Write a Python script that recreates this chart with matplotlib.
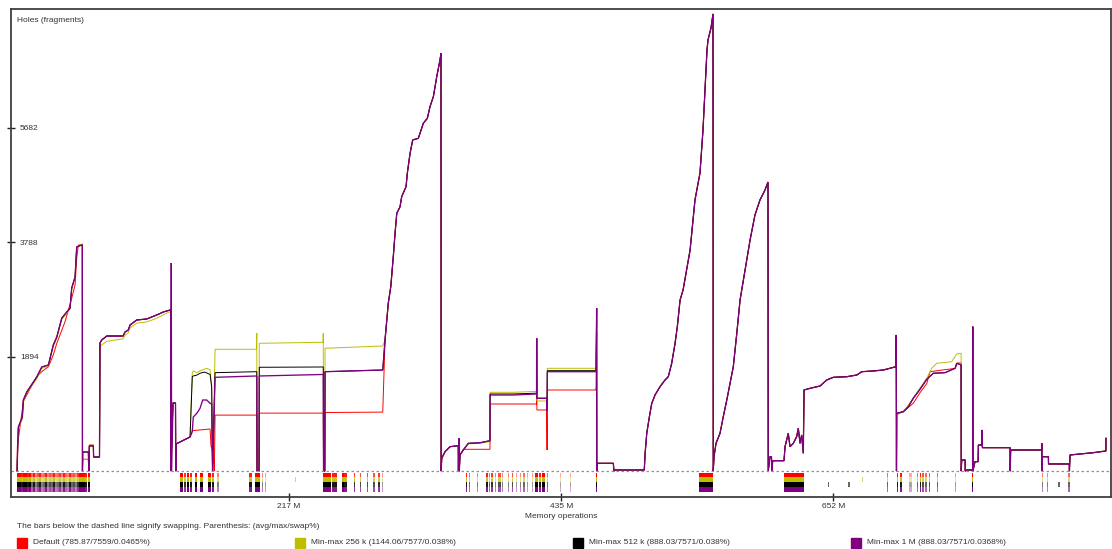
import matplotlib
matplotlib.use("Agg")
import matplotlib.pyplot as plt
from matplotlib.colors import to_rgba
from matplotlib.patches import Rectangle

plt.rcParams['font.family'] = ['Liberation Sans', 'DejaVu Sans']

# x = memory operations (millions), y = holes (fragments)

# first climb, up to the drop near 52 M
pa_x = [0.2, 0.4, 1.2, 4.4, 5.2, 7.9, 15.9, 19.9, 25.2, 29.1, 31.9, 35.9, 42.5, 43.8, 46.5, 47.8, 51.8, 52.3, 52.4, 52.6, 57.1, 57.5, 57.9, 61.1, 61.3, 66.0]
pa_y = [0, 184, 730, 896, 1177, 1310, 1558, 1724, 1757, 2088, 2221, 2535, 2701, 3032, 3214, 3711, 3744, 3744, 0, 316, 316, 0, 416, 416, 233, 233]
ya_y = [0, 150, 700, 870, 1150, 1290, 1530, 1700, 1740, 2060, 2200, 2510, 2680, 3010, 3200, 3711, 3760, 3760, 0, 195, 195, 0, 432, 432, 233, 233]
ra_x = [0.2, 0.4, 5.2, 7.9, 15.9, 19.9, 25.2, 29.1, 31.9, 38.5, 43.8, 46.5, 47.8, 49.1, 51.8, 52.3, 52.4, 52.6, 57.1, 57.5, 57.9, 61.1, 61.3, 66.0]
ra_y = [0, 404, 1149, 1260, 1563, 1646, 1729, 1923, 2116, 2474, 2862, 3082, 3524, 3744, 3744, 3744, 0, 195, 195, 0, 432, 432, 233, 233]

# second plateau
b_x = [66.4, 67.8, 71.8, 84.8, 86.4, 89.0, 90.4, 95.7, 103.7, 111.7, 117.0, 122.3, 122.9, 123.0]
b_y = [2121, 2171, 2237, 2237, 2303, 2337, 2419, 2502, 2519, 2585, 2635, 2667, 2667, 0]
yb_y = [2060, 2090, 2150, 2190, 2250, 2290, 2370, 2450, 2470, 2530, 2590, 2640, 2640, 0]
spike_x = [123.3, 123.6, 124.7, 126.7, 126.9]
spike_y = [3446, 0, 1128, 1128, 0]
short_x = [124.7, 126.7, 126.9]
short_y = [1128, 1128, 0]

# flat stretches where the four allocators split apart
pc_x = [127.1, 138.3, 140.1, 140.9, 143.7, 146.3, 148.4, 151.6, 154.3, 155.6, 156.1, 156.3, 158.3, 191.6, 191.8, 193.4, 193.6, 244.7, 244.9, 245.9, 246.1, 292.2]
pc_y = [449, 565, 652, 896, 957, 1040, 1177, 1177, 1123, 1111, 200, 0, 1553, 1575, 0, 0, 1575, 1600, 0, 0, 1646, 1674]
kc_x = [127.1, 138.3, 140.1, 140.9, 143.7, 146.3, 150.0, 154.3, 155.6, 156.1, 156.3, 158.3, 191.6, 191.8, 193.4, 193.6, 244.7, 244.9, 245.9, 246.1, 292.2]
kc_y = [449, 565, 1563, 1575, 1590, 1620, 1640, 1600, 1398, 300, 0, 1630, 1646, 0, 0, 1719, 1724, 0, 0, 1646, 1674]
yc_x = [127.1, 138.3, 140.1, 140.9, 143.7, 148.4, 151.6, 154.3, 155.6, 156.1, 156.3, 158.3, 191.4, 191.6, 191.8, 193.4, 193.6, 244.5, 244.7, 244.9, 245.9, 246.1, 292.2]
yc_y = [449, 565, 1630, 1660, 1630, 1680, 1700, 1680, 1350, 300, 0, 2017, 2017, 2282, 0, 0, 2116, 2133, 2282, 0, 0, 2034, 2072]
rc_x = [127.1, 138.3, 140.1, 154.3, 155.1, 155.6, 157.5, 157.7, 158.3, 191.6, 191.8, 193.4, 193.6, 244.7, 244.9, 245.9, 246.1, 292.2]
rc_y = [449, 565, 669, 697, 404, 404, 101, 0, 927, 927, 0, 0, 960, 960, 0, 0, 970, 977]

# big climb to ~6900
d_x = [294.0, 296.6, 298.6, 300.6, 302.0, 303.4, 306.0, 307.3, 310.8, 311.8, 314.0, 316.1, 320.6, 323.3, 324.6, 327.8, 329.9, 332.6, 335.3, 337.9, 338.7, 338.8]
d_y = [2171, 2779, 3054, 3550, 3938, 4269, 4378, 4544, 4710, 4932, 5263, 5483, 5511, 5677, 5760, 5842, 6034, 6200, 6531, 6808, 6919, 0]

# middle steps
e_x = [339.3, 341.9, 345.9, 352.5, 352.6, 353.1, 353.3, 353.9, 356.5, 360.5, 369.9, 377.8, 377.9, 396.5, 415.0, 415.1, 415.3, 416.4, 423.1, 423.4, 423.6, 462.3, 462.5, 463.0, 463.1]
pe_y = [212, 321, 404, 421, 0, 543, 0, 267, 349, 460, 470, 503, 1260, 1260, 1277, 2199, 1206, 1206, 1206, 1000, 1646, 1646, 1700, 2696, 0]
ke_y = [212, 321, 404, 421, 0, 0, 0, 267, 349, 460, 470, 503, 1277, 1277, 1290, 2199, 1206, 1206, 1206, 1000, 1663, 1663, 1720, 2696, 0]
ye_y = [212, 321, 404, 421, 0, 0, 0, 267, 349, 450, 460, 490, 1305, 1305, 1320, 1500, 1161, 1161, 1161, 1000, 1702, 1702, 1760, 2500, 0]
re_y = [212, 321, 404, 421, 0, 0, 0, 267, 361, 361, 361, 361, 1111, 1111, 1111, 1300, 1012, 1012, 1012, 349, 1343, 1343, 1400, 2300, 0]

# climb to the overall maximum
f1_x = [463.3, 464.3, 476.3, 476.8, 477.6, 501.0, 501.7, 503.0, 505.1, 507.0, 509.6, 513.6, 517.6, 520.2, 522.9, 525.6, 527.4, 529.6, 532.0, 537.6, 541.5, 545.5, 547.9, 551.1, 551.9, 554.3]
f1_y = [129, 129, 129, 0, 18, 18, 295, 626, 901, 1123, 1260, 1398, 1509, 1563, 1785, 2116, 2391, 2833, 2999, 3661, 4489, 4936, 5648, 6973, 7139, 7338]
peak_x = 555.9
peak_red, peak_256k, peak_512k, peak_1m = 7559, 7577, 7571, 7571
f2_x = [556.1, 556.7, 558.3, 561.5, 564.1, 566.9, 569.5, 572.1, 574.9, 577.5, 581.5, 585.5, 589.4, 593.4, 597.4, 599.8, 600.0, 601.4, 602.6, 602.8, 603.6, 612.6]
f2_y = [0, 238, 460, 626, 901, 1177, 1454, 1729, 2282, 2833, 3330, 3827, 4241, 4489, 4654, 4787, 0, 238, 238, 0, 172, 172]

g_x = [613.4, 616.0, 617.4, 620.0, 622.7, 624.0, 625.4, 626.7, 628.0, 628.6, 633.4, 641.4, 646.7, 652.0, 662.7, 670.7, 674.6, 683.9, 691.9, 697.2, 702.0, 702.2, 702.4]
g_y = [404, 626, 404, 460, 570, 709, 460, 598, 295, 1343, 1371, 1409, 1509, 1553, 1563, 1591, 1646, 1658, 1674, 1702, 1729, 2254, 0]

ph_x = [702.6, 707.9, 711.9, 715.8, 721.2, 726.6, 731.8, 741.2, 749.2, 750.5, 754.0, 754.1]
ph_y = [957, 984, 1066, 1206, 1355, 1520, 1620, 1630, 1702, 1785, 1757, 0]
rh_x = [702.6, 707.9, 715.8, 721.2, 726.6, 729.2, 741.2, 749.2, 751.0, 754.0, 754.1]
rh_y = [957, 984, 1123, 1300, 1450, 1646, 1680, 1700, 1790, 1790, 0]
yh_x = [702.6, 707.9, 715.8, 726.6, 730.5, 734.5, 746.5, 750.5, 754.0, 754.1]
yh_y = [930, 984, 1206, 1540, 1702, 1785, 1812, 1939, 1951, 0]

# tail of the run
i_x = [754.5, 757.2, 757.3, 758.5, 763.2, 763.3, 763.4, 765.1, 767.6, 767.8, 770.4, 770.6, 771.0, 793.1, 793.2, 793.6, 818.4, 818.5, 818.6, 818.9, 823.7, 823.8, 840.4, 840.5, 841.0, 848.9, 859.6, 869.6, 869.7]
i_y = [184, 184, 0, 18, 18, 2391, 0, 156, 156, 432, 432, 681, 388, 388, 0, 349, 349, 460, 0, 238, 238, 118, 118, 0, 267, 283, 305, 333, 543]

series = [
    ("Default (785.87/7559/0.0465%)", "#ff0000",
     ra_x + b_x + short_x + rc_x + d_x + e_x + f1_x + [peak_x] + f2_x + g_x + rh_x + i_x,
     ra_y + b_y + short_y + rc_y + d_y + re_y + f1_y + [peak_red] + f2_y + g_y + rh_y + i_y),
    ("Min-max 256 k (1144.06/7577/0.038%)", "#bebe00",
     pa_x + b_x + short_x + yc_x + d_x + e_x + f1_x + [peak_x] + f2_x + g_x + yh_x + i_x,
     ya_y + yb_y + short_y + yc_y + d_y + ye_y + f1_y + [peak_256k] + f2_y + g_y + yh_y + i_y),
    ("Min-max 512 k (888.03/7571/0.038%)", "#000000",
     pa_x + b_x + short_x + kc_x + d_x + e_x + f1_x + [peak_x] + f2_x + g_x + ph_x + i_x,
     pa_y + b_y + short_y + kc_y + d_y + ke_y + f1_y + [peak_512k] + f2_y + g_y + ph_y + i_y),
    ("Min-max 1 M (888.03/7571/0.0368%)", "#800080",
     pa_x + b_x + spike_x + pc_x + d_x + e_x + f1_x + [peak_x] + f2_x + g_x + ph_x + i_x,
     pa_y + b_y + spike_y + pc_y + d_y + pe_y + f1_y + [peak_1m] + f2_y + g_y + ph_y + i_y),
]

# swapping periods: start (M ops), width (M ops), strength
swap_x = [0.2, 1.8, 3.4, 5.0, 6.5, 8.1, 9.7, 11.3, 12.9, 14.5, 16.1, 17.7, 19.3, 20.9, 22.5, 24.1, 25.7, 27.3,
          28.9, 30.5, 32.1, 33.7, 35.3, 36.9, 38.5, 40.1, 41.7, 43.3, 44.9, 46.5, 48.1, 49.7, 51.3, 52.9, 54.5, 56.9,
          130.3, 133.3, 135.6, 138.6, 142.3, 146.3, 152.9, 155.6, 160.1,
          185.7, 190.2, 195.5, 198.2,
          244.3, 247.9, 251.6, 259.4, 261.6, 269.3, 274.1, 279.4, 284.7, 288.7, 291.4,
          358.8, 361.0, 367.2, 374.7, 377.0, 379.0, 382.0, 384.5, 387.2, 392.2, 395.0, 398.2, 401.8, 404.5, 407.0,
          411.4, 413.8, 417.0, 419.5, 423.0, 433.8, 441.8, 462.3,
          545.0, 612.8, 621.6,
          694.7, 702.6, 705.5, 712.3, 718.4, 720.8, 723.0, 725.5, 728.0, 734.5, 749.1, 762.4, 818.4, 822.5, 839.7]
swap_w = [1.4] * 36 + [2.0, 1.5, 2.2, 1.5, 1.8, 2.1, 2.0, 2.0, 1.2,
                       1.9, 4.0, 1.3, 0.8,
                       3.0, 3.2, 4.3, 1.6, 2.2, 0.9, 0.9, 0.9, 0.9, 0.9, 0.9,
                       1.0, 1.0, 1.0, 1.3, 1.0, 1.5, 1.0, 2.0, 1.0, 1.0, 1.5, 1.0, 1.0, 1.0, 0.8,
                       0.8, 2.5, 1.5, 2.5, 1.2, 0.9, 0.9, 1.2,
                       11.2, 8.3, 7.2,
                       0.9, 1.0, 1.0, 2.5, 1.2, 1.0, 1.4, 1.0, 1.0, 0.9, 0.9, 1.2, 1.0, 1.0, 0.9]
swap_a = [1, 1, .9, 1, 1, .9, 1, .6, .9, .5, .7, .9, .5, .6, .9, .5, .7, .6,
          .9, .5, .6, .8, .5, .9, .6, .5, .9, .6, .7, .5, .8, 1, 1, 1, .9, 1,
          1, .8, 1, .9, 1, 1, 1, .9, .5,
          .9, 1, .5, .4,
          1, 1, .9, 1, .9, .8, .7, .7, .7, .8, .4,
          .9, .6, .5, .9, .6, .8, .5, .7, .5, .5, .7, .4, .5, .6, .4,
          .4, 1, .9, 1, .6, .35, .35, 1,
          1, 1, 1,
          .6, .9, .9, .35, .6, .9, .7, .6, .7, .6, .4, 1, .5, .5, .6]
swap_256k_only = [222.1, 674.7]
swap_512k_only = [648.0, 664.0, 831.7]

x_ticks = [217.3, 434.7, 652.0]
x_tick_labels = ["217 M", "435 M", "652 M"]
y_ticks = [1894, 3788, 5682]

fig = plt.figure(figsize=(11.12, 5.49), dpi=100)
W, H = 1112, 549
ax = fig.add_axes([10.7 / W, 1 - 496.7 / H, (1111 - 10.7) / W, (496.7 - 9.3) / H])
ax.set_xlim(-4.9, 873.7)
ax.set_ylim(-424, 7647)

# purple goes last and a touch wider so it covers the black where they coincide
line_widths = [0.7, 0.7, 0.7, 0.95]
for (name, col, xs, ys), lw in zip(series, line_widths):
    ax.plot(xs, ys, color=col, lw=lw, solid_joinstyle='miter')

ax.axhline(0, color='#909090', lw=0.9, ls=(0, (2, 2)))

# one strip per allocator under the dashed line
row_top = -26
row_h = 78
for i, (name, col, xs, ys) in enumerate(series):
    bottom = row_top - row_h * (i + 1)
    ax.bar(swap_x, row_h, width=swap_w, bottom=bottom, align='edge',
           color=[to_rgba(col, a) for a in swap_a], linewidth=0)
    extra = swap_256k_only if i == 1 else swap_512k_only if i == 2 else []
    if extra:
        ax.bar(extra, row_h, width=0.9, bottom=bottom, align='edge',
               color=to_rgba(col, 0.6), linewidth=0)

ax.set_xticks(x_ticks, x_tick_labels)
ax.set_yticks(y_ticks, [str(v) for v in y_ticks])
ax.tick_params(direction='inout', length=6, width=1, color='#222222',
               labelsize=6, labelcolor='#333333')
ax.tick_params(axis='x', pad=1.5)
ax.tick_params(axis='y', pad=-9.7)
for lbl in ax.get_yticklabels():
    lbl.set_horizontalalignment('left')
for sp in ax.spines.values():
    sp.set_color('#404040')
    sp.set_linewidth(1.3)

ax.text((17 - 10.7) / (1111 - 10.7), 1 - (20 - 9.3) / (496.7 - 9.3), "Holes (fragments)",
        transform=ax.transAxes, fontsize=6, color='#333333', va='center')

fig.text(561 / W, 1 - 517 / H, "Memory operations", fontsize=6, color='#333333',
         ha='center', va='center')
fig.text(17 / W, 1 - 527 / H,
         "The bars below the dashed line signify swapping. Parenthesis: (avg/max/swap%)",
         fontsize=6, color='#333333', va='center')

legend_left = [17, 295, 573, 851]
for left, (name, col, xs, ys) in zip(legend_left, series):
    fig.patches.append(Rectangle((left / W, 1 - 548 / H), 10 / W, 10 / H,
                                 transform=fig.transFigure, color=col, figure=fig))
    fig.text((left + 16) / W, 1 - 543 / H, name, fontsize=6, color='#333333', va='center')

fig.savefig("out.png", dpi=100)
